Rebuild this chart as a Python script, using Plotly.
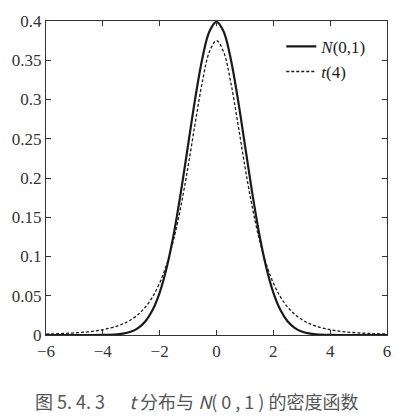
import plotly.graph_objects as go

# values
x_vals = [-6, -5.5, -5, -4.5, -4, -3.5, -3.25, -3, -2.75, -2.5, -2.25, -2, -1.75, -1.5,
          -1.25, -1, -0.75, -0.5, -0.25, 0, 0.25, 0.5, 0.75, 1, 1.25, 1.5, 1.75, 2,
          2.25, 2.5, 2.75, 3, 3.25, 3.5, 4, 4.5, 5, 5.5, 6]
normal_pdf = [0.0, 0.0, 0.0, 0.0, 0.0001, 0.0009, 0.002, 0.0044, 0.0091, 0.0175, 0.0317,
              0.054, 0.0863, 0.1295, 0.1826, 0.242, 0.3011, 0.352, 0.3867, 0.399,
              0.3867, 0.352, 0.3011, 0.242, 0.1826, 0.1295, 0.0863, 0.054, 0.0317,
              0.0175, 0.0091, 0.0044, 0.002, 0.0009, 0.0001, 0.0, 0.0, 0.0, 0.0]
t4_pdf = [0.0012, 0.0018, 0.0027, 0.0041, 0.0067, 0.0113, 0.0148, 0.0197, 0.0264, 0.0357,
          0.0485, 0.0663, 0.0905, 0.1229, 0.1644, 0.2147, 0.2699, 0.3222, 0.3607, 0.375,
          0.3607, 0.3222, 0.2699, 0.2147, 0.1644, 0.1229, 0.0905, 0.0663, 0.0485,
          0.0357, 0.0264, 0.0197, 0.0148, 0.0113, 0.0067, 0.0041, 0.0027, 0.0018, 0.0012]

x_ticks = [-6, -4, -2, 0, 2, 4, 6]
x_tick_labels = ["\u22126", "\u22124", "\u22122", "0", "2", "4", "6"]
y_ticks = [0, 0.05, 0.1, 0.15, 0.2, 0.25, 0.3, 0.35, 0.4]
y_tick_labels = ["0", "0.05", "0.1", "0.15", "0.2", "0.25", "0.3", "0.35", "0.4"]

fig = go.Figure()
fig.add_trace(go.Scatter(x=x_vals, y=normal_pdf, mode="lines", name="<i>N</i>(0,1)",
                         line=dict(color="#1a1a1a", width=2.2, shape="spline")))
fig.add_trace(go.Scatter(x=x_vals, y=t4_pdf, mode="lines", name="<i>t</i>(4)",
                         line=dict(color="#1a1a1a", width=1.3, dash="3px,2px", shape="spline")))

axis_style = dict(showline=True, linecolor="#333", linewidth=1.2, mirror="ticks",
                  ticks="inside", ticklen=5, tickcolor="#333", showgrid=False,
                  zeroline=False,
                  tickfont=dict(family="Liberation Serif", size=17, color="#333"))

fig.update_xaxes(range=[-6, 6], tickvals=x_ticks, ticktext=x_tick_labels, **axis_style)
fig.update_yaxes(range=[0, 0.4], tickvals=y_ticks, ticktext=y_tick_labels, **axis_style)

fig.add_annotation(
    text="图 5. 4. 3 &nbsp;&nbsp;&nbsp;&nbsp; <i>t</i> 分布与 <i>N</i>( 0 , 1 ) 的密度函数",
    xref="paper", yref="paper", x=0.44, y=-0.21, xanchor="center", yanchor="middle",
    showarrow=False, font=dict(family="Noto Sans CJK SC", size=18, color="#555"),
)

fig.update_layout(
    width=411, height=418,
    margin=dict(l=41, r=24, t=18, b=83),
    paper_bgcolor="white", plot_bgcolor="white",
    font=dict(family="Liberation Serif", color="#222"),
    legend=dict(x=0.69, y=0.975, xanchor="left", yanchor="top", bgcolor="rgba(0,0,0,0)",
                font=dict(family="Liberation Serif", size=17), itemwidth=30,
                tracegroupgap=0),
    showlegend=True,
)

fig.write_html("out.html", config={"displayModeBar": False},
               post_script="document.body.style.margin='0';")
